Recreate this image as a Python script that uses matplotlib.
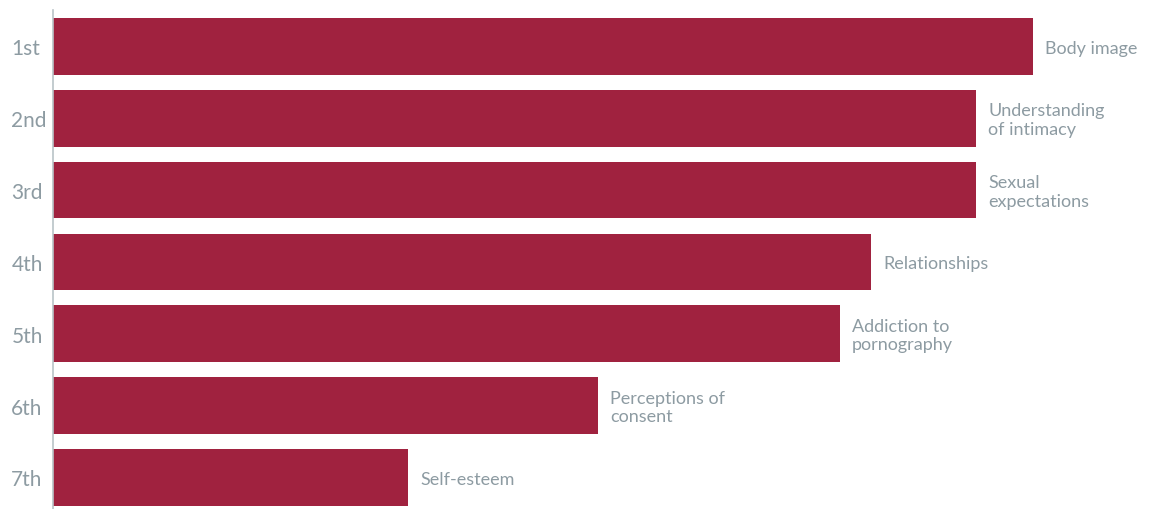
import matplotlib
matplotlib.use("Agg")
import matplotlib.pyplot as plt

ranks = ["1st", "2nd", "3rd", "4th", "5th", "6th", "7th"]
topics = ["Body image", "Understanding\nof intimacy", "Sexual\nexpectations",
          "Relationships", "Addiction to\npornography", "Perceptions of\nconsent",
          "Self-esteem"]
values = [980, 923, 923, 818, 787, 545, 355]

plt.rcParams['font.family'] = ['Lato', 'DejaVu Sans']
bar_color = "#A0223F"
text_color = "#8D9BA2"

fig = plt.figure(figsize=(11.49, 5.10), dpi=100)
ax = fig.add_axes([53/1149, 0, 1 - 53/1149, 1 - 11/510])

y = list(range(len(ranks)))
ax.barh(y, values, height=0.79, color=bar_color)
for yi, v, t in zip(y, values, topics):
    ax.text(v + 12, yi + 0.02, t, va="center", ha="left", fontsize=13,
            color=text_color, linespacing=1.2)

ax.set_xlim(0, 1096)
ax.set_ylim(6.44, -0.508)
ax.set_yticks(y)
ax.set_yticklabels(ranks, fontsize=15, color=text_color)
ax.tick_params(axis="y", length=0, pad=30)
for lab in ax.get_yticklabels():
    lab.set_horizontalalignment("left")
ax.set_xticks([])
for s in ["top", "right", "bottom"]:
    ax.spines[s].set_visible(False)
ax.spines["left"].set_color("#B9C3C7")
ax.spines["left"].set_linewidth(1.2)

fig.savefig("out.png", dpi=100)
